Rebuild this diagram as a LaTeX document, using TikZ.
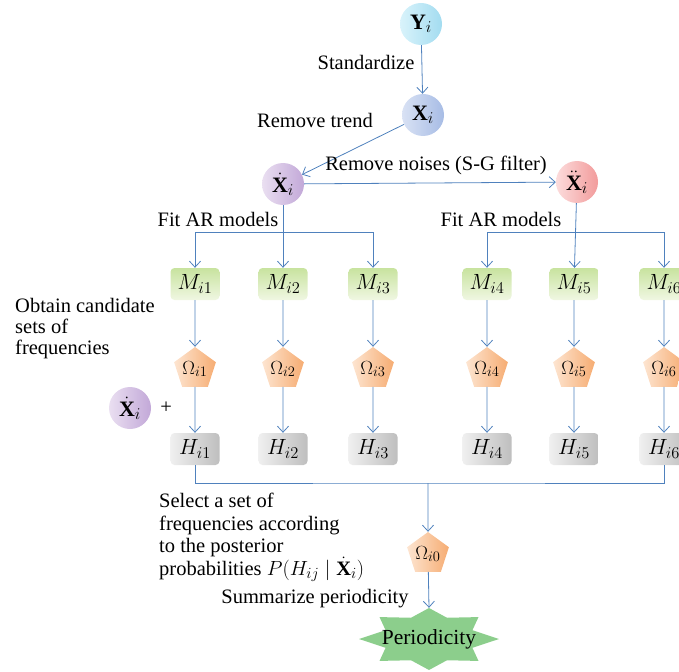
\RequirePackage{fix-cm}
\documentclass[tikz,border=0pt]{standalone}
\usepackage{fontspec}
\setmainfont{Liberation Serif}
\usetikzlibrary{shapes.geometric,arrows.meta,positioning}
\DeclareMathSizes{22}{22}{16.5}{12}
\DeclareMathSizes{20.5}{20.5}{15.5}{11}
\DeclareMathSizes{19}{19}{14.5}{10.5}
\definecolor{flowblue}{HTML}{4F81BD}
\definecolor{ylt}{HTML}{D9F3FB}\definecolor{ydk}{HTML}{A3DCF0}
\definecolor{xlt}{HTML}{D9E2F4}\definecolor{xdk}{HTML}{A7BCE5}
\definecolor{dlt}{HTML}{EADFF1}\definecolor{ddk}{HTML}{C2A8D8}
\definecolor{rlt}{HTML}{FCDCDC}\definecolor{rdk}{HTML}{F29B9B}
\definecolor{mtop}{HTML}{C8E39F}\definecolor{mbot}{HTML}{F0F7E2}
\definecolor{olt}{HTML}{FDE5D1}\definecolor{odk}{HTML}{F6AC72}
\definecolor{hlt}{HTML}{F0F0F0}\definecolor{hdk}{HTML}{BEBEBE}
\definecolor{perfill}{HTML}{8CCE8C}
\begin{document}
\begin{tikzpicture}[x=1pt, y=-1pt,
    font=\fontsize{20.5}{21}\selectfont,
    circ/.style 2 args={circle, minimum size=42pt, inner sep=0pt, left color=#1, right color=#2, font=\fontsize{22}{22}\selectfont},
    mbox/.style={rectangle, rounded corners=4pt, minimum width=49pt, minimum height=32pt, inner sep=0pt, top color=mtop, bottom color=mbot, font=\fontsize{22}{22}\selectfont},
    hbox/.style={rectangle, rounded corners=4pt, minimum width=49pt, minimum height=32pt, inner sep=0pt, left color=hlt, right color=hdk, font=\fontsize{22}{22}\selectfont},
    omega/.style={regular polygon, regular polygon sides=5, minimum size=43pt, inner sep=0pt, left color=olt, right color=odk, font=\fontsize{19}{19}\selectfont},
    lbl/.style={inner sep=0pt, anchor=base},
    line/.style={draw=flowblue, line width=0.8pt},
    arrow/.style={line, -{Straight Barb[length=6pt, width=11pt]}}
]
    \useasboundingbox (0,0) rectangle (679,671);

    % Series and its transforms
    \node[circ={ylt}{ydk}] (y) at (421,24) {$\mathbf{Y}_i$};
    \node[circ={xlt}{xdk}] (x) at (423,115) {$\mathbf{X}_i$};
    \node[circ={dlt}{ddk}] (xd) at (283,184) {$\dot{\mathbf{X}}_i$};
    \node[circ={rlt}{rdk}] (xdd) at (577,182) {$\ddot{\mathbf{X}}_i$};

    \draw[arrow] (y) -- (x);
    \draw[arrow] (x) -- (xd);
    \draw[arrow] (xd) -- (xdd);
    \node[lbl] (standardize) at (366,70) {Standardize};
    \node[lbl] (trend) at (315,128) {Remove trend};
    \node[lbl] (noises) at (436,171) {Remove noises (S-G filter)};

    % AR models, candidate sets, hypotheses
    \foreach \j/\px in {1/195, 2/283, 3/373, 4/487, 5/574, 6/664} {
        \node[mbox] (m\j) at (\px,284) {$M_{i\j}$};
        \node[omega] (o\j) at (\px,369) {$\Omega_{i\j}$};
        \node[hbox] (h\j) at (\px,449) {$H_{i\j}$};
        \draw[arrow] (m\j) -- (o\j);
        \draw[arrow] (o\j) -- (h\j);
    }

    % Branches
    \coordinate (barL) at (283,232);
    \coordinate (barR) at (574,232);
    \draw[arrow] (xd) -- (m2);
    \draw[arrow] (barL) -| (m1);
    \draw[arrow] (barL) -| (m3);
    \draw[arrow] (xdd) -- (m5);
    \draw[arrow] (barR) -| (m4);
    \draw[arrow] (barR) -| (m6);
    \node[lbl] (fitL) at (218,226) {Fit AR models};
    \node[lbl] (fitR) at (501,226) {Fit AR models};
    \node[inner sep=0pt, anchor=north west, align=left] (obtain) at (15,298) {Obtain candidate\\sets of\\frequencies};

    \node[circ={dlt}{ddk}] (xdl) at (130,408) {$\dot{\mathbf{X}}_i$};
    \node[inner sep=0pt, right=9pt of xdl] (plus) {+};

    % Selection
    \coordinate (merge) at (428,483);
    \draw[line] (h1) |- (merge) -| (h6);
    \node[omega] (o0) at (428,554) {$\Omega_{i0}$};
    \draw[arrow] (merge) -- (o0);
    \node[inner sep=0pt, anchor=north west, align=left, font=\fontsize{20.5}{22.6}\selectfont] (select) at (159,493)
        {Select a set of\\frequencies according\\to the posterior\\probabilities $P(H_{ij}\mid\dot{\mathbf{X}}_i)$};

    % Periodicity
    \coordinate (perc) at (429,639);
    \fill[perfill] ([shift={(perc)}]0:70 and 31)
        \foreach \a in {0,45,...,315} {
            -- ([shift={(perc)}]{\a+22.5}:47 and 23) -- ([shift={(perc)}]{\a+45}:70 and 31)
        } -- cycle;
    \node[inner sep=0pt, minimum height=62pt, font=\fontsize{21.5}{22}\selectfont] (per) at (perc) {Periodicity};
    \draw[arrow] (o0) -- (per.north);
    \node[lbl] (summarize) at (315,603) {Summarize periodicity};
\end{tikzpicture}
\end{document}
